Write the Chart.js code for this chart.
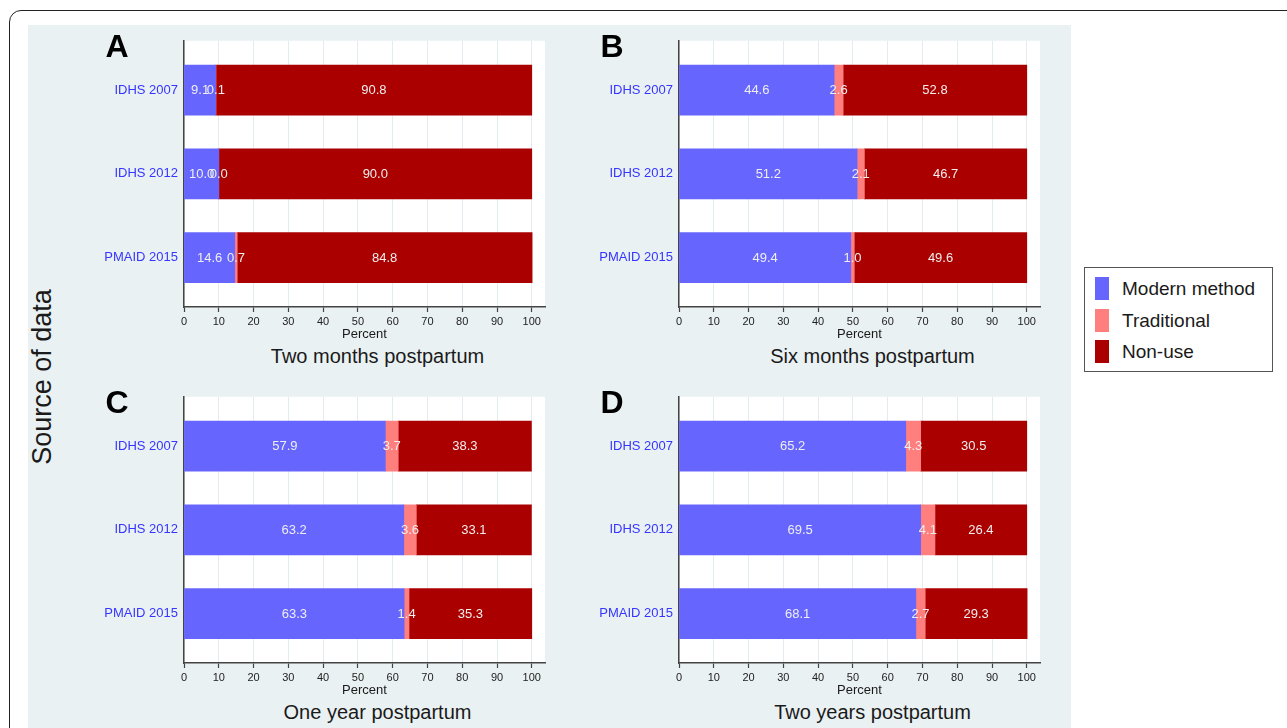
<!DOCTYPE html>
<html>
<head>
<meta charset="utf-8">
<script src="https://cdn.jsdelivr.net/npm/chart.js@4/dist/chart.umd.min.js"></script>
<style>
  html, body { margin: 0; padding: 0; background: #ffffff; }
  body { width: 1287px; height: 728px; position: relative; overflow: hidden;
         font-family: "Liberation Sans", Arial, sans-serif; color: #1a1a1a; }
  .frame { position: absolute; left: 9px; top: 10px; width: 1320px; height: 800px;
           border: 1.5px solid #222; border-radius: 12px; box-sizing: border-box; }
  .panel { position: absolute; left: 28px; top: 25px; width: 1043px; height: 720px; background: #eaf1f3; }
  canvas { position: absolute; }
  .letter { position: absolute; font-weight: bold; font-size: 32px; line-height: 32px; color: #000; width: 40px; text-align: center; }
  .sub { position: absolute; font-size: 20px; line-height: 24px; color: #1a1a1a; width: 400px; text-align: center; }
  .ylab { position: absolute; left: 42px; top: 377px; font-size: 27px; line-height: 30px; color: #1a1a1a;
          transform: translate(-50%, -50%) rotate(-90deg); white-space: nowrap; }
  .legend { position: absolute; left: 1084px; top: 267px; width: 189px; height: 105px; box-sizing: border-box;
            background: #ffffff; border: 1px solid #555; }
  .legend .item { position: absolute; left: 10px; height: 23px; }
  .legend .sw { position: absolute; left: 0; top: 0; width: 14px; height: 23px; }
  .legend .tx { position: absolute; left: 27px; top: 0; font-size: 19px; line-height: 23px; white-space: nowrap; color: #1a1a1a; }
</style>
</head>
<body>
<div class="frame"></div>
<div class="panel"></div>
<div class="ylab">Source of data</div>
<div class="legend" id="legend"></div>

<script>
// Survey rows (top to bottom)
const sources = ['IDHS 2007', 'IDHS 2012', 'PMAID 2015'];
const seriesNames = ['Modern method', 'Traditional', 'Non-use'];
const seriesColors = ['#6666ff', '#ff7f7f', '#aa0000'];
const xTicks = [0, 10, 20, 30, 40, 50, 60, 70, 80, 90, 100];

// Contraceptive use by time since birth (percent)
const twoMonthsModern = [9.1, 10.0, 14.6];
const twoMonthsTraditional = [0.1, 0.0, 0.7];
const twoMonthsNonUse = [90.8, 90.0, 84.8];

const sixMonthsModern = [44.6, 51.2, 49.4];
const sixMonthsTraditional = [2.6, 2.1, 1.0];
const sixMonthsNonUse = [52.8, 46.7, 49.6];

const oneYearModern = [57.9, 63.2, 63.3];
const oneYearTraditional = [3.7, 3.6, 1.4];
const oneYearNonUse = [38.3, 33.1, 35.3];

const twoYearsModern = [65.2, 69.5, 68.1];
const twoYearsTraditional = [4.3, 4.1, 2.7];
const twoYearsNonUse = [30.5, 26.4, 29.3];

const panels = [
  { letter: 'A', title: 'Two months postpartum', left: 95, top: 30, series: [twoMonthsModern, twoMonthsTraditional, twoMonthsNonUse] },
  { letter: 'B', title: 'Six months postpartum', left: 590, top: 30, series: [sixMonthsModern, sixMonthsTraditional, sixMonthsNonUse] },
  { letter: 'C', title: 'One year postpartum', left: 95, top: 386, series: [oneYearModern, oneYearTraditional, oneYearNonUse] },
  { letter: 'D', title: 'Two years postpartum', left: 590, top: 386, series: [twoYearsModern, twoYearsTraditional, twoYearsNonUse] }
];

const FONT = '"Liberation Sans", Arial, sans-serif';
const CANVAS_W = 470, CANVAS_H = 315, CANVAS_RAISE = 3;
const Y_AXIS_W = 89, X_AXIS_H = 35;
const BAND_PAD = 0.589;   // empty space above first / below last bar, in category units

// White plotting region behind the bars
const plotBackground = {
  id: 'plotBackground',
  beforeDraw(chart) {
    const { ctx, chartArea: a } = chart;
    ctx.save();
    ctx.fillStyle = '#ffffff';
    ctx.fillRect(a.left, a.top, a.right - a.left, a.bottom - a.top);
    ctx.restore();
  }
};

// Value printed in the middle of each bar segment
const segmentLabels = {
  id: 'segmentLabels',
  afterDatasetsDraw(chart) {
    const ctx = chart.ctx;
    ctx.save();
    ctx.font = '13px ' + FONT;
    ctx.fillStyle = '#eeeeee';
    ctx.textAlign = 'center';
    ctx.textBaseline = 'middle';
    chart.data.datasets.forEach((ds, di) => {
      const meta = chart.getDatasetMeta(di);
      meta.data.forEach((bar, i) => {
        const cx = (bar.x + bar.base) / 2;
        ctx.fillText(ds.data[i].toFixed(1), cx, bar.y + 0.5);
      });
    });
    ctx.restore();
  }
};

panels.forEach((p) => {
  const cv = document.createElement('canvas');
  cv.width = CANVAS_W; cv.height = CANVAS_H;
  cv.style.left = p.left + 'px'; cv.style.top = (p.top - CANVAS_RAISE) + 'px';
  cv.style.width = CANVAS_W + 'px'; cv.style.height = CANVAS_H + 'px';
  document.body.appendChild(cv);

  const letter = document.createElement('div');
  letter.className = 'letter';
  letter.textContent = p.letter;
  letter.style.left = (p.left + 2) + 'px';
  letter.style.top = (p.top) + 'px';
  document.body.appendChild(letter);

  const sub = document.createElement('div');
  sub.className = 'sub';
  sub.textContent = p.title;
  sub.style.left = (p.left + 282.5 - 200) + 'px';
  sub.style.top = (p.top + 314) + 'px';
  document.body.appendChild(sub);

  new Chart(cv, {
    type: 'bar',
    data: {
      labels: sources,
      datasets: p.series.map((vals, k) => ({
        label: seriesNames[k],
        data: vals,
        backgroundColor: seriesColors[k],
        borderWidth: 0,
        barThickness: 50
      }))
    },
    options: {
      indexAxis: 'y',
      responsive: false,
      animation: false,
      devicePixelRatio: 1,
      layout: { padding: { left: 0, top: 7, right: 20, bottom: 0 } },
      plugins: { legend: { display: false }, title: { display: false }, tooltip: { enabled: false } },
      scales: {
        x: {
          type: 'linear',
          stacked: true,
          min: 0,
          max: 103.8,
          afterBuildTicks: (s) => { s.ticks = xTicks.map(v => ({ value: v })); },
          afterFit: (s) => { s.height = X_AXIS_H; },
          grid: { color: '#e3ecef', lineWidth: 1, drawTicks: true, tickLength: 5, tickColor: '#444', tickWidth: 1.2 },
          border: { display: true, color: '#444', width: 1.5 },
          ticks: { font: { family: FONT, size: 11 }, color: '#222', padding: 3, maxRotation: 0, autoSkip: false },
          title: { display: true, text: 'Percent', font: { family: FONT, size: 13 }, color: '#1a1a1a', padding: { top: 0, bottom: 0 } }
        },
        y: {
          type: 'category',
          stacked: true,
          afterFit: (s) => { s.width = Y_AXIS_W; },
          afterBuildTicks: (s) => {
            s._startValue = -BAND_PAD;
            s._valueRange = sources.length - 1 + 2 * BAND_PAD;
          },
          grid: { display: true, drawOnChartArea: false, drawTicks: false },
          border: { display: true, color: '#444', width: 1.5 },
          ticks: { font: { family: FONT, size: 13 }, color: '#3535ff', padding: 6 }
        }
      }
    },
    plugins: [plotBackground, segmentLabels]
  });
});

// Legend built from the series names and colours
const legend = document.getElementById('legend');
seriesNames.forEach((name, k) => {
  const item = document.createElement('div');
  item.className = 'item';
  item.style.top = (9 + k * 31.5) + 'px';
  const sw = document.createElement('div');
  sw.className = 'sw';
  sw.style.background = seriesColors[k];
  const tx = document.createElement('div');
  tx.className = 'tx';
  tx.textContent = name;
  item.appendChild(sw); item.appendChild(tx);
  legend.appendChild(item);
});
</script>
</body>
</html>
